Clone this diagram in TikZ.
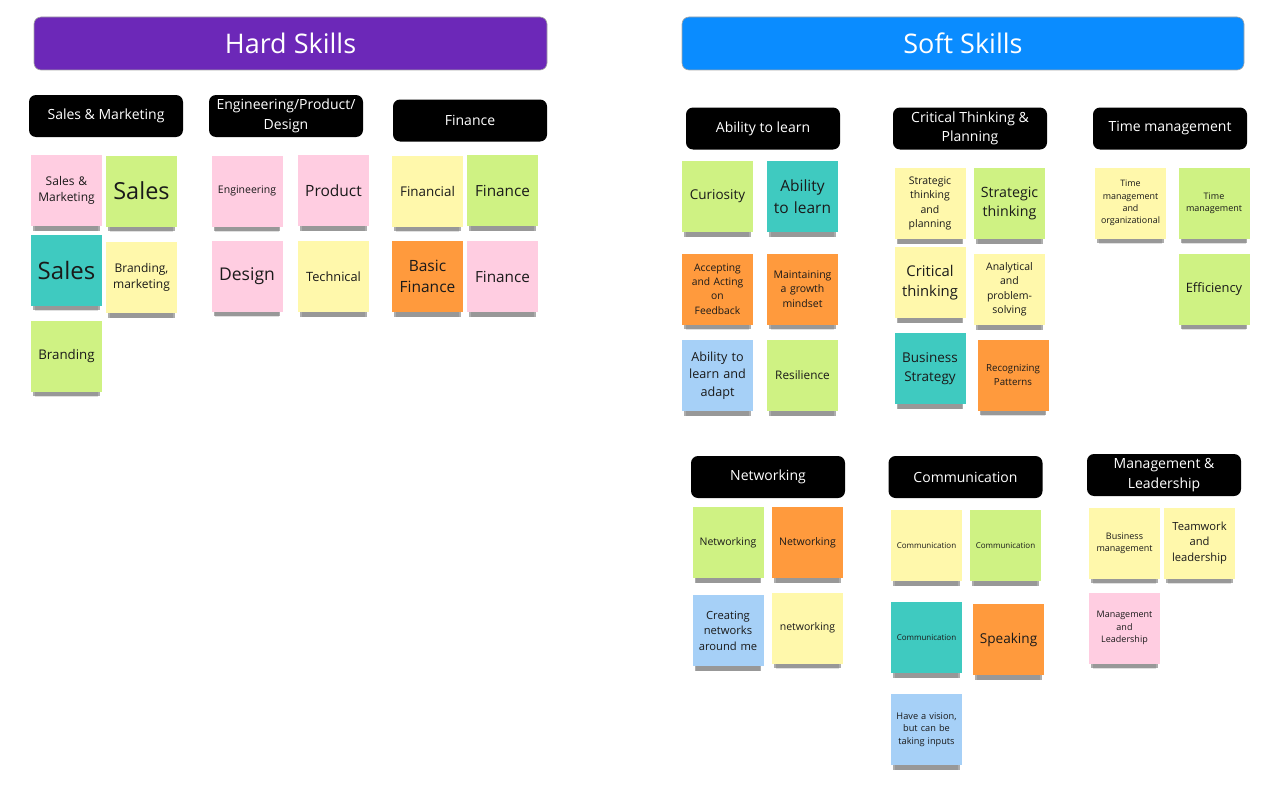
\documentclass[tikz,border=0pt]{standalone}
\usepackage{fontspec}
\setmainfont{Open Sans}
\usepackage{xcolor}
\usetikzlibrary{shadows}
\definecolor{hardpurple}{HTML}{6C28B8}
\definecolor{softblue}{HTML}{0A8CFF}
\definecolor{stickypink}{HTML}{FFCDE1}
\definecolor{stickygreen}{HTML}{CFF283}
\definecolor{stickyteal}{HTML}{3FCAC0}
\definecolor{stickyyellow}{HTML}{FFF8AB}
\definecolor{stickyorange}{HTML}{FF9A3D}
\definecolor{stickyblue}{HTML}{A6D0F7}
\definecolor{notetext}{HTML}{1A1A1A}
\newcommand{\fsz}[1]{\fontsize{#1}{#1}\selectfont\setlength{\baselineskip}{1.38\baselineskip}}

\begin{document}
\begin{tikzpicture}[x=1pt, y=-1pt,
  header/.style={rectangle, rounded corners=7pt, draw=black!35, line width=0.6pt,
    text=white, font=\fsz{27}, minimum height=53pt, inner sep=0pt},
  group/.style={rectangle, rounded corners=7pt, fill=black, text=white,
    align=center, font=\fsz{14}, minimum width=154pt, minimum height=42pt, inner sep=0pt},
  note/.style={rectangle, minimum width=71pt, minimum height=71pt, inner sep=0pt,
    text width=68pt, align=center, text=notetext,
    drop shadow={shadow xshift=0pt, shadow yshift=-9.5pt, shadow scale=0.9,
      fill=black, opacity=0.12},
    drop shadow={shadow xshift=0pt, shadow yshift=-7.5pt, shadow scale=0.94,
      fill=black, opacity=0.32}},
  pinknote/.style={note, fill=stickypink},
  greennote/.style={note, fill=stickygreen},
  tealnote/.style={note, fill=stickyteal},
  yellownote/.style={note, fill=stickyyellow},
  orangenote/.style={note, fill=stickyorange},
  bluenote/.style={note, fill=stickyblue}
]
  \useasboundingbox (0,0) rectangle (1261,792);

  \node[header, fill=hardpurple, minimum width=513pt] (hard) at (290.5,43.5) {Hard Skills};
  \node[header, fill=softblue, minimum width=562pt] (soft) at (963,43.5) {Soft Skills};

  \node[group] (salesmkt) at (106,116) {Sales \& Marketing};
  \node[group] (engprod) at (286,116) {Engineering/Product/\\Design};
  \node[group] (finance) at (470,120.5) {Finance};
  \node[group] (learn) at (763,128.5) {Ability to learn};
  \node[group] (critical) at (970,128.5) {Critical Thinking \&\\Planning};
  \node[group] (timemgmt) at (1170,128.5) {Time management};
  \node[group] (network) at (768,477) {Networking};
  \node[group] (communic) at (965.5,477) {Communication};
  \node[group] (leader) at (1164,475) {Management \&\\Leadership};

  \node[pinknote, font=\fsz{12}] (sm1) at (66.5,190.5) {Sales \&\\Marketing};
  \node[greennote, font=\fsz{23.5}] (sm2) at (141.5,191) {Sales};
  \node[tealnote, font=\fsz{24}] (sm3) at (66.5,270) {Sales};
  \node[yellownote, font=\fsz{12}] (sm4) at (141.5,277.5) {Branding,\\marketing};
  \node[greennote, font=\fsz{13.3}] (sm5) at (66.5,356) {Branding};

  \node[pinknote, font=\fsz{10.5}] (ep1) at (247,191) {Engineering};
  \node[pinknote, font=\fsz{15.5}] (ep2) at (333.5,190.5) {Product};
  \node[pinknote, font=\fsz{17.5}] (ep3) at (247,276) {Design};
  \node[yellownote, font=\fsz{12.8}] (ep4) at (333.5,276.5) {Technical};

  \node[yellownote, font=\fsz{13.4}] (fi1) at (427.5,191) {Financial};
  \node[greennote, font=\fsz{15.3}] (fi2) at (502.5,190.5) {Finance};
  \node[orangenote, font=\fsz{15.5}] (fi3) at (427.5,276.5) {Basic\\Finance};
  \node[pinknote, font=\fsz{15.3}] (fi4) at (502.5,276.5) {Finance};

  \node[greennote, font=\fsz{13.5}] (le1) at (717.5,196.5) {Curiosity};
  \node[tealnote, font=\fsz{15.5}] (le2) at (802.5,196.5) {Ability\\to learn};
  \node[orangenote, font=\fsz{10.3}] (le3) at (717.5,289) {Accepting\\and Acting\\on\\Feedback};
  \node[orangenote, font=\fsz{10.5}] (le4) at (802.5,289) {Maintaining\\a growth\\mindset};
  \node[bluenote, font=\fsz{12.6}] (le5) at (717.5,375.5) {Ability to\\learn and\\adapt};
  \node[greennote, font=\fsz{11.8}] (le6) at (802.5,375.5) {Resilience};

  \node[yellownote, font=\fsz{10.5}] (ct1) at (930,203.5) {Strategic\\thinking\\and\\planning};
  \node[greennote, font=\fsz{14.2}] (ct2) at (1009.5,203.5) {Strategic\\thinking};
  \node[yellownote, font=\fsz{14.8}] (ct3) at (930,282.5) {Critical\\thinking};
  \node[yellownote, font=\fsz{10.5}] (ct4) at (1009.5,289.5) {Analytical\\and\\problem-\\solving};
  \node[tealnote, font=\fsz{13.5}] (ct5) at (930,368.5) {Business\\Strategy};
  \node[orangenote, font=\fsz{9.7}] (ct6) at (1013,375) {Recognizing\\Patterns};

  \node[yellownote, font=\fsz{8.9}] (tm1) at (1130.5,203) {Time\\management\\and\\organizational};
  \node[greennote, font=\fsz{9}] (tm2) at (1214,203) {Time\\management};
  \node[greennote, font=\fsz{12.9}] (tm3) at (1214,289) {Efficiency};

  \node[greennote, font=\fsz{10.5}] (nw1) at (728,542.5) {Networking};
  \node[orangenote, font=\fsz{10.5}] (nw2) at (807.5,542.5) {Networking};
  \node[bluenote, font=\fsz{11.2}] (nw3) at (728,630.5) {Creating\\networks\\around me};
  \node[yellownote, font=\fsz{10.5}] (nw4) at (807.5,628) {networking};

  \node[yellownote, font=\fsz{8}] (co1) at (926.5,545.5) {Communication};
  \node[greennote, font=\fsz{8}] (co2) at (1005.5,545.5) {Communication};
  \node[tealnote, font=\fsz{8}] (co3) at (926.5,637.5) {Communication};
  \node[orangenote, font=\fsz{13.6}] (co4) at (1008.5,639.5) {Speaking};
  \node[bluenote, font=\fsz{9.2}] (co5) at (926.5,729.5) {Have a vision,\\but can be\\taking inputs};

  \node[yellownote, font=\fsz{9}] (ml1) at (1124.5,543) {Business\\management};
  \node[yellownote, font=\fsz{11.2}] (ml2) at (1199.5,543) {Teamwork\\and\\leadership};
  \node[pinknote, font=\fsz{9}] (ml3) at (1124.5,628) {Management\\and\\Leadership};
\end{tikzpicture}
\end{document}
